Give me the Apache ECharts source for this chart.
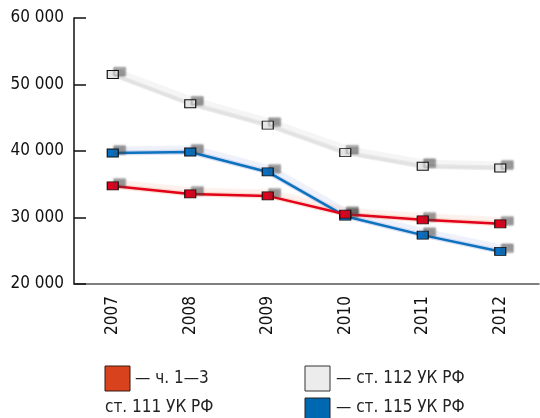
<!DOCTYPE html>
<html><head><meta charset="utf-8">
<script src="https://cdn.jsdelivr.net/npm/echarts@6/dist/echarts.min.js"></script>
<style>html,body{margin:0;padding:0;background:#fff}#c{width:540px;height:418px}</style>
</head><body><div id="c"></div>
<script>
const years = ['2007','2008','2009','2010','2011','2012'];
const art112 = [51500, 47100, 43900, 39750, 37700, 37450];
const art115 = [39700, 39850, 36850, 30200, 27350, 24900];
const art111 = [34750, 33550, 33250, 30500, 29650, 29050];
const yTicks = [20000, 30000, 40000, 50000, 60000];
const legendNames = ['— ч. 1—3', 'ст. 111 УК РФ', '— ст. 112 УК РФ', '— ст. 115 УК РФ'];

const FONT = '"Liberation Sans Narrow", "DejaVu Sans Condensed", "Open Sans", sans-serif';
const fmt = v => String(v).replace(/\B(?=(\d{3})+(?!\d))/g, ' ');

function band(data, color, z) {
  return {
    type: 'line', data: data, symbol: 'none', silent: true, z: z,
    lineStyle: { width: 5, color: color, shadowColor: color, shadowBlur: 1, shadowOffsetX: 3, shadowOffsetY: -4 }
  };
}
function main(data, lineColor, fill, z) {
  return {
    type: 'line', data: data, z: z, symbol: 'rect', symbolSize: [11, 8],
    lineStyle: { width: 2.5, color: lineColor },
    itemStyle: { color: fill, borderColor: '#111', borderWidth: 1,
      shadowColor: 'rgba(70,70,70,0.55)', shadowBlur: 2, shadowOffsetX: 7, shadowOffsetY: -3 }
  };
}

const chart = echarts.init(document.getElementById('c'));
chart.setOption({
  animation: false,
  grid: { left: 74, right: 1, top: 18, bottom: 134 },
  xAxis: {
    type: 'category', data: years, boundaryGap: true,
    axisLine: { lineStyle: { color: '#555', width: 1.5 } },
    axisTick: { inside: true, length: 6, lineStyle: { color: '#222' } },
    axisLabel: { rotate: 90, fontFamily: FONT, fontSize: 17, color: '#111', margin: 12 }
  },
  yAxis: {
    type: 'value', min: yTicks[0], max: yTicks[yTicks.length - 1], interval: 10000,
    splitLine: { show: false },
    axisLine: { show: true, lineStyle: { color: '#111', width: 1.5 } },
    axisTick: { show: true, inside: true, length: 12, lineStyle: { color: '#111', width: 1.5 } },
    axisLabel: { formatter: fmt, fontFamily: FONT, fontSize: 17, color: '#111', margin: 10 }
  },
  series: [
    band(art112, 'rgba(215,215,215,0.5)', 1),
    band(art115, 'rgba(150,170,225,0.4)', 1),
    band(art111, 'rgba(245,170,140,0.4)', 1),
    main(art112, '#e2e2e2', '#e6e6e6', 3),
    main(art115, '#0d72be', '#0a6fc0', 4),
    main(art111, '#e3001b', '#e0001e', 5)
  ],
  graphic: [
    { type: 'rect', shape: { x: 105, y: 366, width: 25, height: 25 }, style: { fill: '#d8421c', stroke: '#3a1a10', lineWidth: 1 } },
    { type: 'text', x: 135, y: 379, style: { text: legendNames[0], font: '17px ' + FONT, fill: '#222', verticalAlign: 'middle' } },
    { type: 'text', x: 105, y: 408, style: { text: legendNames[1], font: '17px ' + FONT, fill: '#222', verticalAlign: 'middle' } },
    { type: 'rect', shape: { x: 305, y: 366, width: 25, height: 25 }, style: { fill: '#ececec', stroke: '#333', lineWidth: 1 } },
    { type: 'text', x: 336, y: 379, style: { text: legendNames[2], font: '17px ' + FONT, fill: '#222', verticalAlign: 'middle' } },
    { type: 'rect', shape: { x: 305, y: 398, width: 25, height: 25 }, style: { fill: '#0068b0', stroke: '#222', lineWidth: 1 } },
    { type: 'text', x: 336, y: 408, style: { text: legendNames[3], font: '17px ' + FONT, fill: '#222', verticalAlign: 'middle' } }
  ]
});
</script></body></html>
